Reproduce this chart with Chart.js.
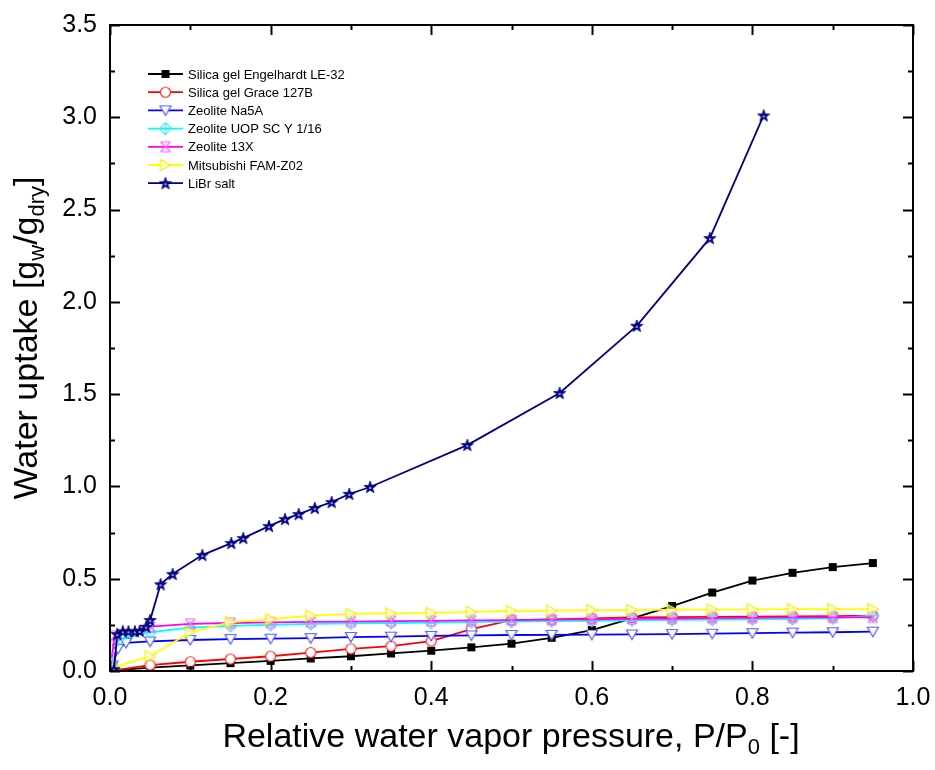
<!DOCTYPE html>
<html>
<head>
<meta charset="utf-8">
<script src="https://cdn.jsdelivr.net/npm/chart.js@4.4.0/dist/chart.umd.min.js"></script>
<style>
  body { margin: 0; background: #fff; }
  #wrap { width: 935px; height: 770px; }
</style>
</head>
<body>
<div id="wrap"><canvas id="iso" width="935" height="770"></canvas></div>
<script>
// series names
const names = ['Silica gel Engelhardt LE-32', 'Silica gel Grace 127B', 'Zeolite Na5A',
  'Zeolite UOP SC Y 1/16', 'Zeolite 13X', 'Mitsubishi FAM-Z02', 'LiBr salt'];

// relative pressure P/P0 and uptake (g/g)
const xLE32 = [0.005, 0.05, 0.1, 0.15, 0.2, 0.25, 0.3, 0.35, 0.4, 0.45, 0.5, 0.55, 0.6, 0.65, 0.7, 0.75, 0.8, 0.85, 0.9, 0.95];
const yLE32 = [0.003, 0.018, 0.03, 0.043, 0.055, 0.068, 0.08, 0.095, 0.11, 0.128, 0.148, 0.18, 0.222, 0.285, 0.352, 0.425, 0.49, 0.532, 0.563, 0.585];

const xGrace = [0.005, 0.05, 0.1, 0.15, 0.2, 0.25, 0.3, 0.35, 0.4, 0.45, 0.5, 0.55, 0.6, 0.65, 0.7, 0.75, 0.8, 0.85, 0.9, 0.95];
const yGrace = [0.003, 0.032, 0.05, 0.065, 0.08, 0.1, 0.12, 0.135, 0.162, 0.227, 0.276, 0.28, 0.285, 0.29, 0.292, 0.293, 0.295, 0.296, 0.297, 0.3];

const xNa5A = [0.003, 0.01, 0.02, 0.05, 0.1, 0.15, 0.2, 0.25, 0.3, 0.35, 0.4, 0.45, 0.5, 0.55, 0.6, 0.65, 0.7, 0.75, 0.8, 0.85, 0.9, 0.95];
const yNa5A = [0.03, 0.12, 0.152, 0.16, 0.168, 0.173, 0.175, 0.178, 0.184, 0.186, 0.19, 0.193, 0.195, 0.196, 0.197, 0.198, 0.2, 0.202, 0.205, 0.208, 0.21, 0.213];

const xUOP = [0.003, 0.01, 0.05, 0.1, 0.15, 0.2, 0.25, 0.3, 0.35, 0.4, 0.45, 0.5, 0.55, 0.6, 0.65, 0.7, 0.75, 0.8, 0.85, 0.9, 0.95];
const yUOP = [0.03, 0.17, 0.21, 0.235, 0.245, 0.25, 0.255, 0.258, 0.26, 0.262, 0.265, 0.267, 0.27, 0.272, 0.275, 0.277, 0.278, 0.28, 0.282, 0.285, 0.3];

const x13X = [0.002, 0.006, 0.05, 0.1, 0.15, 0.2, 0.25, 0.3, 0.35, 0.4, 0.45, 0.5, 0.55, 0.6, 0.65, 0.7, 0.75, 0.8, 0.85, 0.9, 0.95];
const y13X = [0.07, 0.19, 0.24, 0.255, 0.26, 0.263, 0.266, 0.268, 0.27, 0.272, 0.274, 0.276, 0.278, 0.28, 0.282, 0.284, 0.286, 0.288, 0.29, 0.29, 0.29];

const xFAM = [0.005, 0.05, 0.1, 0.15, 0.2, 0.25, 0.3, 0.35, 0.4, 0.45, 0.5, 0.55, 0.6, 0.65, 0.7, 0.75, 0.8, 0.85, 0.9, 0.95];
const yFAM = [0.02, 0.08, 0.21, 0.265, 0.28, 0.3, 0.31, 0.312, 0.315, 0.32, 0.325, 0.327, 0.33, 0.33, 0.332, 0.333, 0.334, 0.335, 0.335, 0.335];

const xLiBr = [0.005, 0.009, 0.016, 0.023, 0.031, 0.037, 0.045, 0.05, 0.063, 0.078, 0.115, 0.151, 0.166, 0.198, 0.218, 0.235, 0.255, 0.276, 0.298, 0.324, 0.445, 0.56, 0.656, 0.747, 0.814];
const yLiBr = [0.01, 0.2, 0.215, 0.215, 0.215, 0.217, 0.24, 0.276, 0.47, 0.525, 0.628, 0.693, 0.72, 0.785, 0.823, 0.85, 0.883, 0.915, 0.959, 0.997, 1.224, 1.506, 1.87, 2.345, 3.01];

const xTicks = [0, 0.2, 0.4, 0.6, 0.8, 1.0];
const yTicks = [0, 0.5, 1.0, 1.5, 2.0, 2.5, 3.0, 3.5];

const lineColors = ['#000000', '#ff0000', '#0000ff', '#00ffff', '#ff00ff', '#ffff00', '#000080'];

// little marker images
function mk(size, fn) {
  const c = document.createElement('canvas');
  c.width = size; c.height = size;
  const g = c.getContext('2d');
  fn(g, size / 2);
  return c;
}
const markers = [
  mk(10, (g, m) => { g.fillStyle = '#000'; g.fillRect(1, 1, 8, 8); }),
  mk(13, (g, m) => { g.beginPath(); g.arc(m, m, 5, 0, Math.PI * 2); g.fillStyle = '#fff'; g.fill(); g.strokeStyle = '#ff3030'; g.lineWidth = 1.2; g.stroke(); }),
  mk(14, (g, m) => { g.beginPath(); g.moveTo(1.5, 2.5); g.lineTo(12.5, 2.5); g.lineTo(7, 12); g.closePath(); g.fillStyle = '#fff'; g.fill(); g.strokeStyle = '#5a5aff'; g.lineWidth = 1.2; g.stroke(); }),
  mk(14, (g, m) => { g.strokeStyle = '#40e0f0'; g.lineWidth = 1.1; g.beginPath(); g.moveTo(m, 1); g.lineTo(13, m); g.lineTo(m, 13); g.lineTo(1, m); g.closePath(); g.stroke();
    g.beginPath(); g.moveTo(m, 1); g.lineTo(m, 13); g.moveTo(1, m); g.lineTo(13, m); g.stroke(); }),
  mk(14, (g, m) => { g.strokeStyle = '#ff60ff'; g.lineWidth = 1.1; g.beginPath(); g.moveTo(2, 2); g.lineTo(12, 12); g.moveTo(12, 2); g.lineTo(2, 12);
    g.moveTo(3, 2); g.lineTo(11, 2); g.moveTo(3, 12); g.lineTo(11, 12); g.stroke(); }),
  mk(14, (g, m) => { g.beginPath(); g.moveTo(2, 1.5); g.lineTo(12.5, 7); g.lineTo(2, 12.5); g.closePath(); g.fillStyle = 'rgba(255,255,255,0.6)'; g.fill(); g.strokeStyle = '#f0f000'; g.lineWidth = 1.2; g.stroke(); }),
  mk(14, (g, m) => { g.beginPath();
    for (let i = 0; i < 10; i++) { const r = i % 2 ? 2.6 : 6.5; const a = -Math.PI / 2 + i * Math.PI / 5; g.lineTo(m + r * Math.cos(a), m + 0.5 + r * Math.sin(a)); }
    g.closePath(); g.fillStyle = '#000080'; g.fill(); g.strokeStyle = '#000080'; g.lineWidth = 0.8; g.stroke();
    g.beginPath(); g.arc(m, m + 1, 1.3, 0, Math.PI * 2); g.fillStyle = '#9090d0'; g.fill(); })
];

const xs = [xLE32, xGrace, xNa5A, xUOP, x13X, xFAM, xLiBr];
const ys = [yLE32, yGrace, yNa5A, yUOP, y13X, yFAM, yLiBr];

const datasets = names.map((n, i) => ({
  label: n,
  data: xs[i].map((x, k) => ({ x: x, y: ys[i][k] })),
  borderColor: lineColors[i],
  backgroundColor: lineColors[i],
  borderWidth: 1.8,
  pointStyle: markers[i],
  pointRadius: 5,
  tension: 0,
  order: 6 - i
}));

const FONT = '"Liberation Sans", Arial, sans-serif';

function richText(g, parts, x, y, size) {
  const subSize = Math.round(size * 0.65);
  let w = 0;
  parts.forEach(p => {
    g.font = (p.sub ? subSize : size) + 'px ' + FONT;
    w += g.measureText(p.t).width;
  });
  let cx = x - w / 2;
  parts.forEach(p => {
    g.font = (p.sub ? subSize : size) + 'px ' + FONT;
    g.fillText(p.t, cx, p.sub ? y + size * 0.28 : y);
    cx += g.measureText(p.t).width;
  });
}

const frame = {
  id: 'frame',
  afterDraw(chart) {
    const g = chart.ctx, a = chart.chartArea;
    const sx = chart.scales.x, sy = chart.scales.y;
    g.save();
    g.strokeStyle = '#000';
    g.lineWidth = 2;
    g.strokeRect(a.left, a.top, a.right - a.left, a.bottom - a.top);
    g.beginPath();
    for (let v = 0; v <= 1.0001; v += 0.1) {
      const p = Math.round(sx.getPixelForValue(v)) + 0.5;
      const len = Math.round(v * 10) % 2 === 0 ? 10 : 5;
      g.moveTo(p, a.bottom); g.lineTo(p, a.bottom - len);
      g.moveTo(p, a.top); g.lineTo(p, a.top + len);
    }
    for (let v = 0; v <= 3.5001; v += 0.25) {
      const p = Math.round(sy.getPixelForValue(v)) + 0.5;
      const len = Math.round(v * 4) % 2 === 0 ? 10 : 5;
      g.moveTo(a.left, p); g.lineTo(a.left + len, p);
      g.moveTo(a.right, p); g.lineTo(a.right - len, p);
    }
    g.stroke();

    // axis titles
    g.fillStyle = '#000';
    g.textBaseline = 'middle';
    g.textAlign = 'left';
    richText(g, [{ t: 'Relative water vapor pressure, P/P' }, { t: '0', sub: true }, { t: ' [-]' }], 511, 738, 34);
    g.save();
    g.translate(28, 338);
    g.rotate(-Math.PI / 2);
    richText(g, [{ t: 'Water uptake [g' }, { t: 'w', sub: true }, { t: '/g' }, { t: 'dry', sub: true }, { t: ']' }], 0, 0, 34);
    g.restore();

    // legend
    g.font = '13px ' + FONT;
    chart.data.datasets.forEach((d, i) => {
      const yy = 74 + i * 18.2;
      g.strokeStyle = d.borderColor;
      g.lineWidth = 1.8;
      g.beginPath(); g.moveTo(148, yy); g.lineTo(183, yy); g.stroke();
      const m = d.pointStyle;
      g.drawImage(m, 165.5 - m.width / 2, yy - m.height / 2);
      g.fillStyle = '#000';
      g.fillText(d.label, 188, yy + 1);
    });
    g.restore();
  }
};

new Chart(document.getElementById('iso'), {
  type: 'line',
  data: { datasets: datasets },
  options: {
    responsive: false,
    animation: false,
    layout: { padding: { top: 25, right: 22, left: 0, bottom: 0 } },
    plugins: { legend: { display: false }, tooltip: { enabled: false } },
    scales: {
      x: {
        type: 'linear', min: 0, max: 1.0,
        afterBuildTicks: s => { s.ticks = xTicks.map(v => ({ value: v })); },
        afterFit: s => { s.height = 99; s.paddingLeft = 0; s.paddingRight = 0; },
        grid: { display: false, drawTicks: false },
        border: { display: false },
        ticks: { color: '#000', padding: 12, maxRotation: 0, font: { size: 25, family: FONT }, callback: v => v.toFixed(1) }
      },
      y: {
        type: 'linear', min: 0, max: 3.5,
        afterBuildTicks: s => { s.ticks = yTicks.map(v => ({ value: v })); },
        afterFit: s => { s.width = 110; s.paddingTop = 0; s.paddingBottom = 0; },
        grid: { display: false, drawTicks: false },
        border: { display: false },
        ticks: { color: '#000', padding: 13, font: { size: 25, family: FONT }, callback: v => v.toFixed(1) }
      }
    }
  },
  plugins: [frame]
});
</script>
</body>
</html>
